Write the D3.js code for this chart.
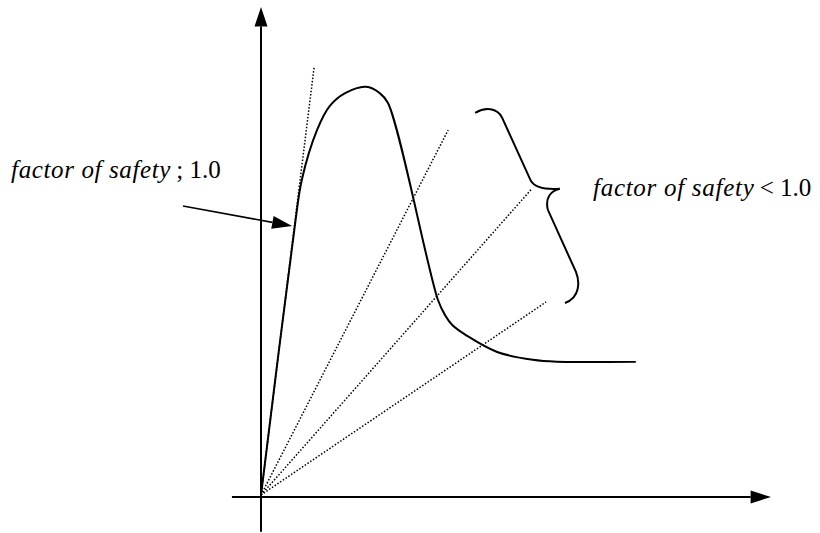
<!DOCTYPE html>
<html>
<head>
<meta charset="utf-8">
<script src="https://cdn.jsdelivr.net/npm/d3@7"></script>
<style>
  html, body { margin: 0; padding: 0; background: #fff; }
  svg { display: block; }
</style>
</head>
<body>
<svg id="chart" width="820" height="533"></svg>
<script>
// stress-strain style sketch, arbitrary units (0..10 on both axes)

// the measured curve
const curveX = [0, 0.67, 0.80, 1.10, 1.35, 1.65, 2.06, 2.33, 2.49, 3.47, 3.61, 3.75, 4.04, 4.63, 5.33, 5.80, 7.35];
const curveY = [0.04, 5.59, 6.47, 7.49, 7.98, 8.24, 8.37, 8.24, 8.04, 4.02, 3.71, 3.51, 3.29, 2.96, 2.80, 2.76, 2.76];

// dotted rays from the origin (end points)
const rayX = [1.04, 3.67, 5.31, 5.59];
const rayY = [8.76, 7.49, 6.29, 3.98];

// brace grouping the lower rays: top end, tip, bottom end
const braceTop = [4.20, 7.84];
const braceTip = [5.86, 6.29];
const braceBottom = [5.96, 3.96];

// annotation arrow (start, tip)
const noteArrow = [[-1.53, 5.94], [0.61, 5.53]];

// labels: italic part, upright part, start x, x of upright part, baseline y
const labels = [
  { italic: "factor of safety", rest: "; 1.0", x: -4.90, x2: -1.66, y: 6.51 },
  { italic: "factor of safety", rest: "< 1.0", x: 6.51, x2: 9.78, y: 6.14 }
];

const svg = d3.select("#chart");

const x = d3.scaleLinear().domain([0, 10]).range([261, 771]);
const y = d3.scaleLinear().domain([0, 10]).range([497, 7]);

// axes (no ticks in the sketch, just arrows)
svg.append("line")
  .attr("x1", x(-0.57)).attr("y1", y(0))
  .attr("x2", x(9.6)).attr("y2", y(0))
  .attr("stroke", "#000").attr("stroke-width", 2);
svg.append("path")
  .attr("d", `M${x(10)},${y(0)} L${x(9.6)},${y(0) - 6.5} L${x(9.6)},${y(0) + 6.5} Z`)
  .attr("fill", "#000");

svg.append("line")
  .attr("x1", x(0)).attr("y1", y(-0.71))
  .attr("x2", x(0)).attr("y2", y(9.6))
  .attr("stroke", "#000").attr("stroke-width", 2);
svg.append("path")
  .attr("d", `M${x(0)},${y(10)} L${x(0) - 6.5},${y(9.6)} L${x(0) + 6.5},${y(9.6)} Z`)
  .attr("fill", "#000");

// dotted rays
rayX.forEach(function (rx, i) {
  svg.append("line")
    .attr("x1", x(0)).attr("y1", y(0.04))
    .attr("x2", x(rx)).attr("y2", y(rayY[i]))
    .attr("stroke", "#000")
    .attr("stroke-width", 1.5)
    .attr("stroke-dasharray", "1.5,1.8");
});

// the curve
const line = d3.line()
  .x((d) => x(d[0]))
  .y((d) => y(d[1]))
  .curve(d3.curveCatmullRom.alpha(0.5));

svg.append("path")
  .datum(curveX.map((v, i) => [v, curveY[i]]))
  .attr("d", line)
  .attr("fill", "none")
  .attr("stroke", "#000")
  .attr("stroke-width", 2)
  .attr("stroke-linejoin", "round");

// brace, built from its three anchors
function drawBrace() {
  const tx = x(braceTop[0]), ty = y(braceTop[1]);
  const px = x(braceTip[0]), py = y(braceTip[1]);
  const bx = x(braceBottom[0]), by = y(braceBottom[1]);
  const p = d3.path();
  // upper arm
  p.moveTo(tx, ty);
  p.bezierCurveTo(tx + 10, ty - 6, tx + 22, ty - 5, tx + 27, ty + 5);
  p.lineTo(px - 29, py - 8);
  p.bezierCurveTo(px - 25, py - 1, px - 15, py + 1, px, py);
  // lower arm
  p.moveTo(px, py);
  p.bezierCurveTo(px - 9, py + 2, px - 15, py + 9, px - 12, py + 21);
  p.lineTo(bx + 11, by - 31);
  p.bezierCurveTo(bx + 15, by - 21, bx + 15, by - 5, bx, by);
  svg.append("path")
    .attr("d", p.toString())
    .attr("fill", "none")
    .attr("stroke", "#000")
    .attr("stroke-width", 2);
}
drawBrace();

// annotation arrow pointing at the initial slope
const ax1 = x(noteArrow[0][0]), ay1 = y(noteArrow[0][1]);
const ax2 = x(noteArrow[1][0]), ay2 = y(noteArrow[1][1]);
const ang = Math.atan2(ay2 - ay1, ax2 - ax1);
const headLen = 20, headW = 6.5;
const hx = ax2 - headLen * Math.cos(ang), hy = ay2 - headLen * Math.sin(ang);

svg.append("line")
  .attr("x1", ax1).attr("y1", ay1)
  .attr("x2", hx).attr("y2", hy)
  .attr("stroke", "#000").attr("stroke-width", 1.6);
svg.append("path")
  .attr("d", `M${ax2},${ay2} L${hx - headW * Math.sin(ang)},${hy + headW * Math.cos(ang)} L${hx + headW * Math.sin(ang)},${hy - headW * Math.cos(ang)} Z`)
  .attr("fill", "#000");

// labels
const font = "'Liberation Serif', 'Times New Roman', Times, serif";
labels.forEach(function (l) {
  const it = svg.append("text")
    .attr("font-family", font)
    .attr("font-size", 25)
    .attr("font-style", "italic")
    .attr("fill", "#000")
    .attr("x", x(l.x))
    .attr("y", y(l.y))
    .text(l.italic);
  // nudge the spacing so the italic words end where they do in the sketch
  const target = x(l.x2) - x(l.x) - 6;
  const w = it.node().getComputedTextLength();
  const ls = Math.max(0, (target - w) / (l.italic.length - 1));
  it.attr("letter-spacing", ls.toFixed(2));

  svg.append("text")
    .attr("font-family", font)
    .attr("font-size", 25)
    .attr("fill", "#000")
    .attr("x", x(l.x2))
    .attr("y", y(l.y))
    .text(l.rest);
});
</script>
</body>
</html>
